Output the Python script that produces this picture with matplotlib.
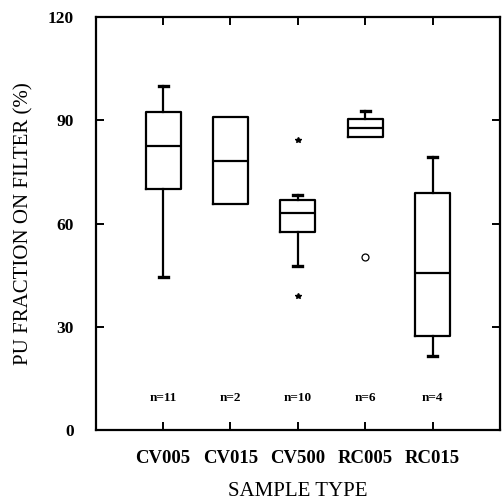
import matplotlib
matplotlib.use("Agg")
import matplotlib.pyplot as plt

samples = ["CV005", "CV015", "CV500", "RC005", "RC015"]
counts = [11, 2, 10, 6, 4]
whis_lo = [44.4, 65.7, 47.6, 85.1, 21.5]
q1 = [70.0, 65.7, 57.5, 85.1, 27.3]
median = [82.5, 78.2, 63.0, 87.8, 45.6]
q3 = [92.4, 90.9, 66.8, 90.3, 68.8]
whis_hi = [100.0, 90.9, 68.3, 92.7, 79.3]
# outliers: (box index, value, marker)
outliers = [(2, 84.2, "*"), (2, 38.9, "*"), (3, 50.3, "o")]

plt.rcParams["font.family"] = "Liberation Serif"

fig = plt.figure(figsize=(5.04, 5.03), dpi=100)
ax = fig.add_axes([0.19, 0.145, 0.802, 0.821])

stats = []
for i, name in enumerate(samples):
    stats.append({
        "label": name, "whislo": whis_lo[i], "q1": q1[i], "med": median[i],
        "q3": q3[i], "whishi": whis_hi[i], "fliers": [],
    })

pos = list(range(1, len(samples) + 1))
lw = 1.6
parts = ax.bxp(stats, positions=pos, widths=0.52, capwidths=0.13, showfliers=False,
               boxprops=dict(color="black", linewidth=lw),
               medianprops=dict(color="black", linewidth=lw),
               whiskerprops=dict(color="black", linewidth=lw),
               capprops=dict(color="black", linewidth=2.4))

# no cap where the whisker ends on the box
for i in range(len(samples)):
    if whis_lo[i] == q1[i]:
        parts["caps"][2 * i].set_visible(False)
    if whis_hi[i] == q3[i]:
        parts["caps"][2 * i + 1].set_visible(False)

for i, v, m in outliers:
    if m == "*":
        ax.plot(pos[i], v, marker="*", color="black", markersize=4, linestyle="none")
    else:
        ax.plot(pos[i], v, marker="o", markerfacecolor="white", markeredgecolor="black",
                markersize=5, markeredgewidth=0.9, linestyle="none")

for i, n in enumerate(counts):
    ax.text(pos[i], 9.3, f"n={n}", ha="center", va="center", fontsize=9.5, fontweight="bold")

ax.set_xlim(0, 6)
ax.set_ylim(0, 120)
ax.set_yticks([0, 30, 60, 90, 120])
ax.set_xticks(pos)
ax.set_xticklabels(samples, fontsize=13.5, fontweight="bold")
for t in ax.get_yticklabels():
    t.set_fontsize(12.5)
    t.set_fontweight("bold")
ax.tick_params(direction="in", length=6, width=1.4, top=True, right=True)
ax.tick_params(axis="x", pad=14)
ax.tick_params(axis="y", pad=16)
for s in ax.spines.values():
    s.set_linewidth(1.6)

ax.set_xlabel("SAMPLE TYPE", fontsize=15, labelpad=11)
ax.set_ylabel("PU FRACTION ON FILTER (%)", fontsize=15, labelpad=10)

fig.savefig("out.png", dpi=100)
